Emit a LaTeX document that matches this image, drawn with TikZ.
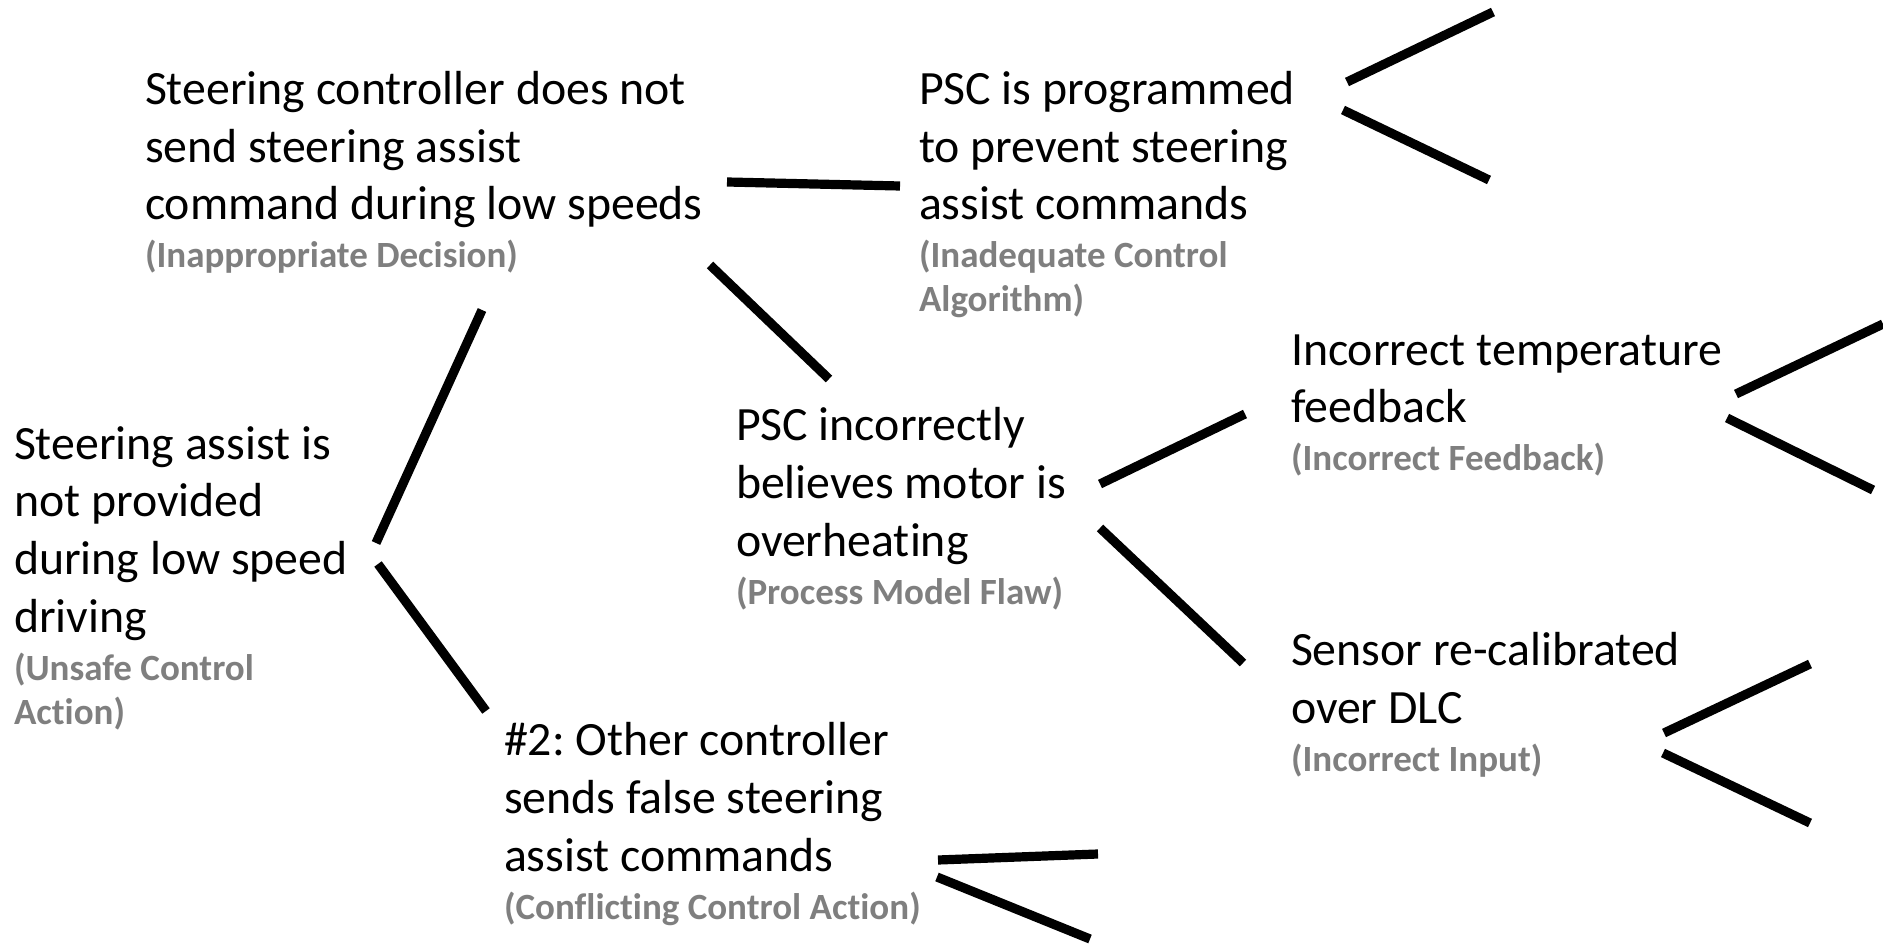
\documentclass[tikz,border=0pt]{standalone}
\usepackage{fontspec}
\setmainfont{Carlito}[Ligatures={NoCommon}]
\frenchspacing
\definecolor{labelgray}{RGB}{127,127,127}
\newcommand\blk{\fontsize{23.9}{28.8}\selectfont}
\newcommand\gry{\fontsize{18.5}{22}\selectfont\bfseries\color{labelgray}}
\tikzset{
  item/.style={anchor=base west, inner sep=0pt, outer sep=0pt, align=left, font=\blk},
  conn/.style={line width=4.6pt, black},
}
\begin{document}
\begin{tikzpicture}[x=0.5pt,y=-0.5pt]
\useasboundingbox (0,0) rectangle (1883,945);

% anchors are at the baseline of the last (grey) line
\node[item] (root) at (14,724) {Steering assist is\\not provided\\during low speed\\driving\\[-4.8pt]\gry (Unsafe Control\\[-6.8pt]\gry Action)};

\node[item] (sc) at (145,268) {Steering controller does not\\send steering assist\\command during low speeds\\[-4.8pt]\gry (Inappropriate Decision)};

\node[item] (other) at (504,919) {\#2: Other controller\\sends false steering\\assist commands\\[-4.8pt]\gry (Conflicting Control Action)};

\node[item] (prog) at (919,312) {PSC is programmed\\to prevent steering\\assist commands\\[-4.8pt]\gry (Inadequate Control\\[-6.8pt]\gry Algorithm)};

\node[item] (believe) at (736,604) {PSC incorrectly\\believes motor is\\overheating\\[-4.8pt]\gry (Process Model Flaw)};

\node[item] (temp) at (1291,471) {Incorrect temperature\\feedback\\[-4.8pt]\gry (Incorrect Feedback)};

\node[item] (sensor) at (1291,771) {Sensor re-calibrated\\over DLC\\[-4.8pt]\gry (Incorrect Input)};

% connector end points
\coordinate (r1) at (376,543); \coordinate (sc1) at (482,310);
\coordinate (r2) at (378,564); \coordinate (ot1) at (486,711);
\coordinate (sc2) at (727,182); \coordinate (pr1) at (900,186);
\coordinate (sc3) at (710,265); \coordinate (be1) at (829,379);
\coordinate (pr2) at (1347,82); \coordinate (pr2e) at (1493,12);
\coordinate (pr3) at (1343,110); \coordinate (pr3e) at (1489,180);
\coordinate (be2) at (1100,484); \coordinate (te1) at (1245,414);
\coordinate (be3) at (1100,528); \coordinate (se1) at (1243,663);
\coordinate (te2) at (1736,394); \coordinate (te2e) at (1883,324);
\coordinate (te3) at (1727,418); \coordinate (te3e) at (1873,490);
\coordinate (se2) at (1664,733); \coordinate (se2e) at (1810,664);
\coordinate (se3) at (1663,753); \coordinate (se3e) at (1810,823);
\coordinate (ot2) at (938,860); \coordinate (ot2e) at (1098,854);
\coordinate (ot3) at (937,877); \coordinate (ot3e) at (1090,939);

\draw[conn] (r1) -- (sc1);
\draw[conn] (r2) -- (ot1);
\draw[conn] (sc2) -- (pr1);
\draw[conn] (sc3) -- (be1);
\draw[conn] (pr2) -- (pr2e);
\draw[conn] (pr3) -- (pr3e);
\draw[conn] (be2) -- (te1);
\draw[conn] (be3) -- (se1);
\draw[conn] (te2) -- (te2e);
\draw[conn] (te3) -- (te3e);
\draw[conn] (se2) -- (se2e);
\draw[conn] (se3) -- (se3e);
\draw[conn] (ot2) -- (ot2e);
\draw[conn] (ot3) -- (ot3e);
\end{tikzpicture}
\end{document}
